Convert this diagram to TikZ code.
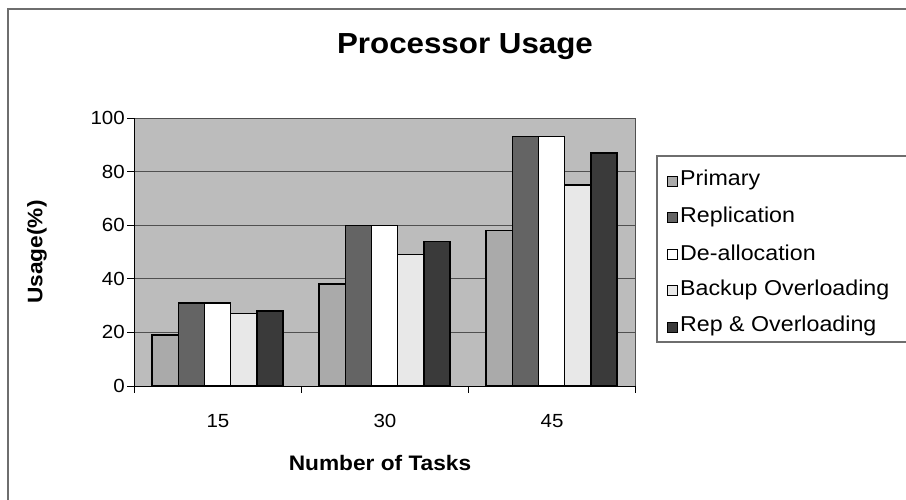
\documentclass[tikz,border=0pt]{standalone}
\usepackage{fontspec}
\setmainfont[FakeStretch=1.08]{Liberation Sans}
\definecolor{plotbg}{RGB}{188,188,188}
\definecolor{gridc}{RGB}{80,80,80}
\definecolor{framec}{RGB}{110,110,110}
\definecolor{cprim}{RGB}{170,170,170}
\definecolor{crepl}{RGB}{100,100,100}
\definecolor{cdeal}{RGB}{255,255,255}
\definecolor{cback}{RGB}{232,232,232}
\definecolor{crep}{RGB}{58,58,58}
\tikzset{
  bar/.style={draw=black,line width=1.4pt},
  gridline/.style={draw=gridc,line width=0.9pt},
  axisline/.style={draw=black,line width=1pt},
  ticklab/.style={font=\fontsize{19}{19}\selectfont,inner sep=0pt},
  axtitle/.style={font=\fontsize{21}{21}\selectfont\bfseries,inner sep=0pt},
  legtext/.style={font=\fontsize{21.5}{21.5}\selectfont,inner sep=0pt,anchor=west},
  legkey/.style={draw=black,line width=1pt,minimum size=10pt,inner sep=0pt},
}
\begin{document}
\begin{tikzpicture}[x=1pt,y=-1pt]
\useasboundingbox (0,0) rectangle (906,499);
\clip (0,0) rectangle (906,499);
% chart frame
\draw[draw=framec,line width=1.2pt] (8,9) rectangle (940,540);
% title
\node[font=\fontsize{29}{29}\selectfont\bfseries,inner sep=0pt] (title) at (465,47) {Processor Usage};
% plot area
\fill[plotbg] (134,118) rectangle (635,386);
\foreach \v in {20,40,60,80}
  \draw[gridline] (134,{386-2.68*\v}) -- (635,{386-2.68*\v});
\draw[gridline] (134,118) -- (635,118) -- (635,386);
% bars: group, series, value
\foreach \g/\vals in {0/{19,31,31,27,28},1/{38,60,60,49,54},2/{58,93,93,75,87}}{
  \foreach \v [count=\s from 0] in \vals {
    \pgfmathsetmacro{\xa}{134+167*\g+18+26.2*\s}
    \pgfmathsetmacro{\ya}{386-2.68*\v}
    \ifcase\s \def\bc{cprim}\or\def\bc{crepl}\or\def\bc{cdeal}\or\def\bc{cback}\or\def\bc{crep}\fi
    \filldraw[bar,fill=\bc] (\xa,386) rectangle ({\xa+26.2},\ya);
  }
}
% axes
\draw[axisline] (134,118) -- (134,386) -- (635,386);
\foreach \v in {0,20,40,60,80,100}{
  \draw[axisline] (127,{386-2.68*\v}) -- (134,{386-2.68*\v});
  \node[ticklab,anchor=east] (ylab\v) at (125,{386-2.68*\v}) {\v};
}
\foreach \x in {134,301,468,635}
  \draw[axisline] (\x,386) -- (\x,393);
\node[ticklab] (x15) at (218,421) {15};
\node[ticklab] (x30) at (385,421) {30};
\node[ticklab] (x45) at (552,421) {45};
\node[axtitle] (xtitle) at (380,463) {Number of Tasks};
\node[axtitle,rotate=90] (ytitle) at (37,252) {Usage(\%)};
% legend
\draw[draw=framec,line width=1.2pt] (657,156) rectangle (940,342);
\foreach \c/\t [count=\i from 0] in {cprim/Primary,crepl/Replication,cdeal/De-allocation,cback/Backup Overloading,crep/Rep \& Overloading}{
  \node[legkey,fill=\c] (key\i) at (672,{181+36.5*\i}) {};
  \node[legtext] (leg\i) at (680,{180+36.5*\i}) {\t};
}
\end{tikzpicture}
\end{document}
